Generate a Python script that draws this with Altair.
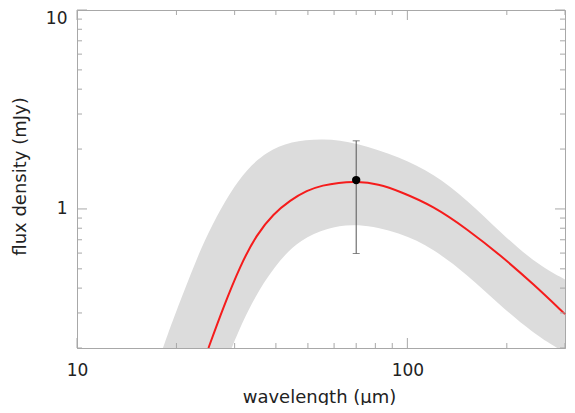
import altair as alt
import pandas as pd

# ---- data ----
curve_wl = [25.0, 27.7, 31.2, 35.0, 39.3, 44.2, 49.6, 55.6, 61.8, 70.0, 81.7, 95.2, 120.2, 151.7, 191.4, 241.5, 300.0]
curve_flux = [0.2, 0.319, 0.520, 0.745, 0.945, 1.105, 1.240, 1.317, 1.355, 1.374, 1.335, 1.222, 1.031, 0.791, 0.585, 0.417, 0.296]

upper_wl = [18.2, 19.4, 21.2, 23.1, 25.6, 29.1, 32.7, 37.6, 44.2, 55.7, 70.0, 95.2, 119.9, 151.7, 191.4, 240.9, 300.0]
upper_flux = [0.2, 0.270, 0.395, 0.570, 0.830, 1.215, 1.590, 1.940, 2.185, 2.266, 2.16, 1.817, 1.503, 1.111, 0.762, 0.542, 0.442]

lower_wl = [29.4, 31.6, 35.4, 41.2, 47.4, 57.2, 70.0, 95.2, 119.9, 151.7, 191.4, 240.9, 284.2]
lower_flux = [0.2, 0.268, 0.390, 0.560, 0.700, 0.805, 0.850, 0.762, 0.631, 0.468, 0.326, 0.237, 0.2]

obs_wl = [70.0]
obs_flux = [1.397]
obs_lo = [0.597]
obs_hi = [2.20]

x_major = [10, 100]
x_minor = [20, 30, 40, 50, 60, 70, 80, 90, 200, 300]
y_major = [1, 10]
y_minor = [0.2, 0.3, 0.4, 0.5, 0.6, 0.7, 0.8, 0.9, 2, 3, 4, 5, 6, 7, 8, 9]

# ---- tables ----
curve = pd.DataFrame({"wl": curve_wl, "flux": curve_flux})
upper = pd.DataFrame({"wl": upper_wl, "flux": upper_flux})
lower = pd.DataFrame({"wl": lower_wl, "flux": lower_flux})
obs = pd.DataFrame({"wl": obs_wl, "flux": obs_flux, "lo": obs_lo, "hi": obs_hi})
caps = pd.DataFrame({"wl": obs_wl * 2, "v": obs_lo + obs_hi})
xmaj = pd.DataFrame({"t": x_major})
xmin = pd.DataFrame({"t": x_minor})
ymaj = pd.DataFrame({"t": y_major})
ymin = pd.DataFrame({"t": y_minor})

W, H = 488, 338
MAJ, MIN = 10, 5
FRAME = "#a8a8a8"
TEXT = "#222222"
FONT = "DejaVu Sans"

xs = alt.Scale(type="log", domain=[10, 300], nice=False)
ys = alt.Scale(type="log", domain=[0.2, 10], nice=False)

x_axis = alt.Axis(values=x_major, format="~g", ticks=False, domainColor=FRAME,
                  labelFont=FONT, labelFontSize=17, labelColor=TEXT, labelPadding=14,
                  labelFlush=False,
                  titleFont=FONT, titleFontSize=18, titleFontWeight="normal", titleColor=TEXT,
                  titleX=242, titleY=49, titleBaseline="middle", titleAlign="center",
                  grid=False, zindex=1)
y_axis = alt.Axis(values=y_major, format="~g", ticks=False, domainColor=FRAME,
                  labelFont=FONT, labelFontSize=17, labelColor=TEXT, labelPadding=10,
                  labelFlush=True,
                  titleFont=FONT, titleFontSize=18, titleFontWeight="normal", titleColor=TEXT,
                  titleX=-57, titleY=166, titleBaseline="middle", titleAlign="center",
                  titleAngle=270, grid=False, zindex=1)

band = alt.Chart(upper).mark_area(color="#dcdcdc", opacity=1, interpolate="basis").encode(
    x=alt.X("wl:Q", scale=xs, axis=x_axis, title="wavelength (μm)"),
    y=alt.Y("flux:Q", scale=ys, axis=y_axis, title="flux density (mJy)"),
    y2=alt.datum(0.2),
)

mask = alt.Chart(lower).mark_area(color="white", opacity=1, interpolate="basis").encode(
    x=alt.X("wl:Q", scale=xs),
    y=alt.Y("flux:Q", scale=ys),
    y2=alt.datum(0.2),
)

line = alt.Chart(curve).mark_line(color="#f51c1c", strokeWidth=2, interpolate="basis").encode(
    x=alt.X("wl:Q", scale=xs),
    y=alt.Y("flux:Q", scale=ys),
)

err = alt.Chart(obs).mark_rule(color="#555555", strokeWidth=1).encode(
    x=alt.X("wl:Q", scale=xs),
    y=alt.Y("lo:Q", scale=ys),
    y2="hi:Q",
)

cap = alt.Chart(caps).mark_tick(color="#555555", orient="horizontal", size=7, thickness=1).encode(
    x=alt.X("wl:Q", scale=xs),
    y=alt.Y("v:Q", scale=ys),
)

pt = alt.Chart(obs).mark_circle(color="black", size=70, opacity=1).encode(
    x=alt.X("wl:Q", scale=xs),
    y=alt.Y("flux:Q", scale=ys),
)


def xticks(df, length):
    r = alt.Chart(df).mark_rule(color=FRAME, strokeWidth=1)
    bottom = r.encode(x=alt.X("t:Q", scale=xs), y=alt.value(H), y2=alt.value(H - length))
    top = r.encode(x=alt.X("t:Q", scale=xs), y=alt.value(0), y2=alt.value(length))
    return [bottom, top]


def yticks(df, length):
    r = alt.Chart(df).mark_rule(color=FRAME, strokeWidth=1)
    left = r.encode(y=alt.Y("t:Q", scale=ys), x=alt.value(0), x2=alt.value(length))
    right = r.encode(y=alt.Y("t:Q", scale=ys), x=alt.value(W), x2=alt.value(W - length))
    return [left, right]


ticks = xticks(xmaj, MAJ) + xticks(xmin, MIN) + yticks(ymaj, MAJ) + yticks(ymin, MIN)

chart = alt.layer(band, mask, line, err, cap, pt, *ticks).properties(
    width=W, height=H,
    autosize=alt.AutoSizeParams(type="none"),
    padding={"left": 69, "top": 2, "right": 2, "bottom": 57},
).configure_view(stroke=FRAME, strokeWidth=1)

chart.save("out.html", embed_options={"renderer": "svg", "actions": False})
